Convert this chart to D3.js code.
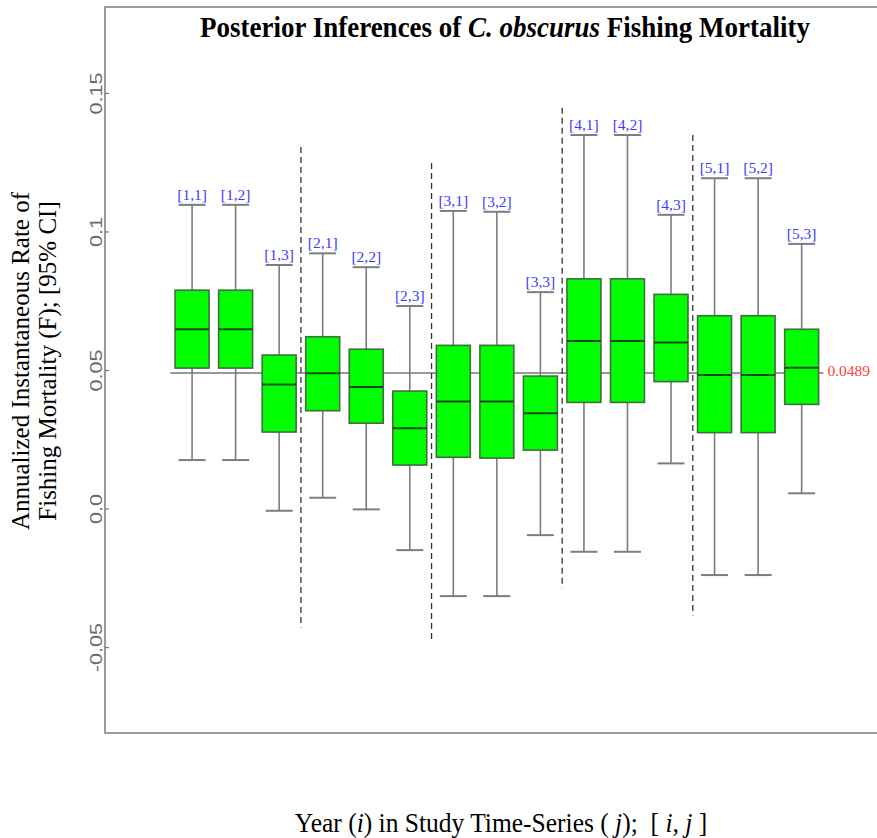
<!DOCTYPE html>
<html>
<head>
<meta charset="utf-8">
<script src="https://cdn.jsdelivr.net/npm/d3@7/dist/d3.min.js"></script>
<style>
  html, body { margin: 0; padding: 0; background: #fff; }
  svg { display: block; }
</style>
</head>
<body>
<svg id="chart" width="877" height="838"></svg>
<script>
// Posterior summaries of annual fishing mortality F, by year i and series j
const labels = ["[1,1]","[1,2]","[1,3]","[2,1]","[2,2]","[2,3]","[3,1]","[3,2]","[3,3]",
                "[4,1]","[4,2]","[4,3]","[5,1]","[5,2]","[5,3]"];
const upper  = [0.1096, 0.1096, 0.0879, 0.0921, 0.0871, 0.0731, 0.1074, 0.1071, 0.0781,
                0.1348, 0.1348, 0.1060, 0.1192, 0.1192, 0.0955];
const q3     = [0.0788, 0.0788, 0.0554, 0.0620, 0.0575, 0.0424, 0.0589, 0.0589, 0.0478,
                0.0829, 0.0829, 0.0773, 0.0696, 0.0696, 0.0647];
const median = [0.0647, 0.0647, 0.0448, 0.0488, 0.0439, 0.0290, 0.0386, 0.0386, 0.0344,
                0.0605, 0.0605, 0.0599, 0.0482, 0.0482, 0.0508];
const q1     = [0.0507, 0.0507, 0.0276, 0.0353, 0.0308, 0.0157, 0.0185, 0.0182, 0.0211,
                0.0383, 0.0383, 0.0458, 0.0274, 0.0274, 0.0376];
const lower  = [0.0175, 0.0175, -0.0008, 0.0039, -0.0003, -0.0150, -0.0316, -0.0316, -0.0096,
                -0.0156, -0.0156, 0.0163, -0.0240, -0.0240, 0.0055];

// overall posterior mean reference line
const overallMean = 0.0489;

// year separators: x position (between boxes) and vertical extent
const sepPos    = [3.5, 6.5, 9.5, 12.5];
const sepTop    = [0.1305, 0.1247, 0.1446, 0.1348];
const sepBottom = [-0.0429, -0.0482, -0.0287, -0.0386];

const yTicks = [-0.05, 0.0, 0.05, 0.1, 0.15];
const yTickLabels = ["-0.05", "0.0", "0.05", "0.1", "0.15"];

const serif = "'Liberation Serif', 'Times New Roman', serif";

const svg = d3.select("#chart");

const frame = { left: 105, top: 7, bottom: 733, right: 910 };

const x = d3.scaleLinear().domain([-1, 17.5]).range([frame.left, frame.left + 18.5 * 43.54]);
const y = d3.scaleLinear().domain([-0.081, 0.181]).range([frame.bottom, frame.top]);

const boxW = x(1.39) - x(1);      // half box width
const capW = x(1.31) - x(1);      // half cap width

const data = labels.map((l, i) => ({
  label: l, pos: i + 1,
  hi: upper[i], q3: q3[i], med: median[i], q1: q1[i], lo: lower[i]
}));

// plot frame
svg.append("rect")
  .attr("x", frame.left).attr("y", frame.top)
  .attr("width", frame.right - frame.left).attr("height", frame.bottom - frame.top)
  .attr("fill", "none").attr("stroke", "#9a9a9a").attr("stroke-width", 2);

// y axis
const yAxis = d3.axisLeft(y).tickValues(yTicks).tickSize(-4)
  .tickFormat((d, i) => yTickLabels[i]);
const ya = svg.append("g").attr("transform", `translate(${frame.left},0)`).call(yAxis);
ya.select(".domain").remove();
ya.selectAll(".tick line").attr("stroke", "#777").attr("stroke-width", 1.2);
ya.selectAll(".tick text")
  .attr("x", null).attr("dy", null)
  .attr("transform", "translate(-3,0) rotate(-90) scale(1.2,0.9)")
  .attr("text-anchor", "middle")
  .attr("fill", "#6a6a6a")
  .style("font-family", "'Liberation Sans Narrow', 'Liberation Sans', Arial, sans-serif")
  .style("font-size", "18px");

// reference line at overall mean (behind boxes)
svg.append("line")
  .attr("x1", x(0.5)).attr("x2", x(15.5))
  .attr("y1", y(overallMean)).attr("y2", y(overallMean))
  .attr("stroke", "#777").attr("stroke-width", 1.6);

svg.append("text")
  .attr("x", x(15.5) + 4).attr("y", y(overallMean) - 1)
  .attr("dominant-baseline", "middle")
  .attr("fill", "#ff3b3b")
  .style("font-family", serif)
  .style("font-size", "15.5px")
  .text(overallMean.toFixed(4));

// year separators
svg.selectAll("line.sep").data(sepPos).enter().append("line")
  .attr("class", "sep")
  .attr("x1", d => x(d)).attr("x2", d => x(d))
  .attr("y1", (d, i) => y(sepTop[i])).attr("y2", (d, i) => y(sepBottom[i]))
  .attr("stroke", "#333").attr("stroke-width", 1.3)
  .attr("stroke-dasharray", "6,4");

const g = svg.selectAll("g.box").data(data).enter().append("g").attr("class", "box");

// whiskers
g.append("line")
  .attr("x1", d => x(d.pos)).attr("x2", d => x(d.pos))
  .attr("y1", d => y(d.hi)).attr("y2", d => y(d.lo))
  .attr("stroke", "#7d7d7d").attr("stroke-width", 1.6);

// caps
g.append("line")
  .attr("x1", d => x(d.pos) - capW).attr("x2", d => x(d.pos) + capW)
  .attr("y1", d => y(d.hi)).attr("y2", d => y(d.hi))
  .attr("stroke", "#7d7d7d").attr("stroke-width", 2);
g.append("line")
  .attr("x1", d => x(d.pos) - capW).attr("x2", d => x(d.pos) + capW)
  .attr("y1", d => y(d.lo)).attr("y2", d => y(d.lo))
  .attr("stroke", "#7d7d7d").attr("stroke-width", 2);

// boxes
g.append("rect")
  .attr("x", d => x(d.pos) - boxW)
  .attr("width", 2 * boxW)
  .attr("y", d => y(d.q3))
  .attr("height", d => y(d.q1) - y(d.q3))
  .attr("fill", "#00ff00")
  .attr("stroke", "#3f6f3f").attr("stroke-width", 1.6);

// medians
g.append("line")
  .attr("x1", d => x(d.pos) - boxW).attr("x2", d => x(d.pos) + boxW)
  .attr("y1", d => y(d.med)).attr("y2", d => y(d.med))
  .attr("stroke", "#1f4a1f").attr("stroke-width", 2);

// labels above upper caps
g.append("text")
  .attr("x", d => x(d.pos))
  .attr("y", d => y(d.hi) - 5)
  .attr("text-anchor", "middle")
  .attr("fill", "#3c3cff")
  .style("font-family", serif)
  .style("font-size", "15.5px")
  .text(d => d.label);

// title
const title = svg.append("text")
  .attr("transform", "translate(505,37) scale(1,1.12)")
  .attr("text-anchor", "middle")
  .style("font-family", serif)
  .style("font-size", "27px")
  .style("font-weight", "bold")
  .attr("fill", "#000");
title.append("tspan").text("Posterior Inferences of ");
title.append("tspan").style("font-style", "italic").text("C. obscurus");
title.append("tspan").text(" Fishing Mortality");

// y axis title (two lines)
const yTitle = svg.append("g")
  .attr("transform", "translate(0,361) rotate(-90)")
  .style("font-family", serif)
  .style("font-size", "25px");
yTitle.append("text").attr("x", 0).attr("y", 29).attr("text-anchor", "middle")
  .text("Annualized Instantaneous Rate of");
yTitle.append("text").attr("x", 0).attr("y", 56).attr("text-anchor", "middle")
  .text("Fishing Mortality (F); [95% CI]");

// x axis title
const xTitle = svg.append("text")
  .attr("transform", "translate(501,832) scale(1,1.03)")
  .attr("text-anchor", "middle")
  .attr("xml:space", "preserve")
  .style("white-space", "pre")
  .style("font-family", serif)
  .style("font-size", "25.5px")
  .attr("fill", "#000");
xTitle.append("tspan").text("Year (");
xTitle.append("tspan").style("font-style", "italic").text("i");
xTitle.append("tspan").text(") in Study Time-Series ( ");
xTitle.append("tspan").style("font-style", "italic").text("j");
xTitle.append("tspan").text(");  [ ");
xTitle.append("tspan").style("font-style", "italic").text("i");
xTitle.append("tspan").text(", ");
xTitle.append("tspan").style("font-style", "italic").text("j");
xTitle.append("tspan").text(" ]");
</script>
</body>
</html>
